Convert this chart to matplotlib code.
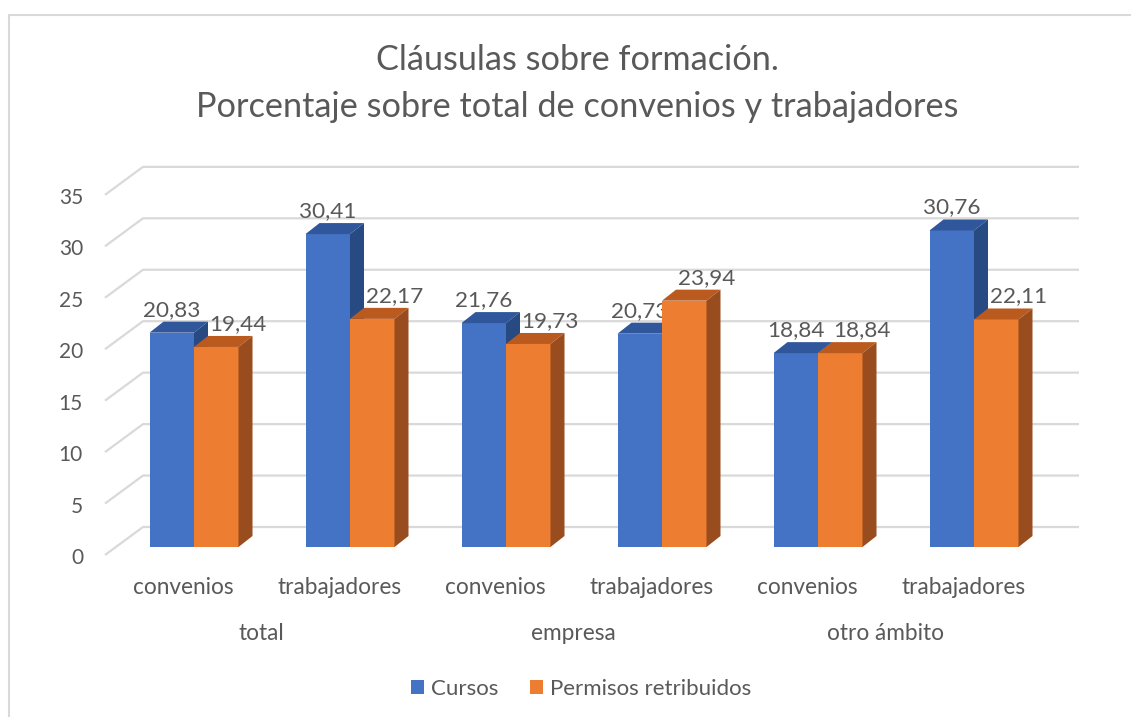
import matplotlib
matplotlib.use('Agg')
import matplotlib.pyplot as plt
from matplotlib.patches import Polygon, Rectangle, Patch

# data
groups = ['total', 'empresa', 'otro ámbito']
categories = ['convenios', 'trabajadores'] * 3
cursos = [20.83, 30.41, 21.76, 20.73, 18.84, 30.76]
permisos = [19.44, 22.17, 19.73, 23.94, 18.84, 22.11]
series_names = ['Cursos', 'Permisos retribuidos']
yticks = [0, 5, 10, 15, 20, 25, 30, 35]
title = 'Cláusulas sobre formación.\nPorcentaje sobre total de convenios y trabajadores'

# styling
text_col = '#595959'
grid_col = '#D9D9D9'
front_cols = ['#4472C4', '#ED7D31']
top_cols = ['#30569B', '#BB5A1F']
side_cols = ['#284A83', '#994C1E']
plt.rcParams['font.family'] = ['Lato', 'DejaVu Sans']

W, H = 1131, 717
fig = plt.figure(figsize=(W/100, H/100), dpi=100)
ax = fig.add_axes([0, 0, 1, 1])
ax.axis('off')

# axis scaling: one category = 156 px, one unit = 10.29 px
px_x = 1/156.
px_y = 1/10.29
x0_px, y0_px = 194, 547
ax.set_xlim(-x0_px*px_x, (W-x0_px)*px_x)
ax.set_ylim((y0_px-H)*px_y, y0_px*px_y)

bar_w = 44.5*px_x
bdx, bdy = 14*px_x, 11*px_y          # bar depth
wdx, wdy = 27.5*px_x, 20*px_y        # back wall offset
fdx, fdy = -10.5*px_x, -8*px_y       # front edge offset
wall_left = (143-x0_px)*px_x
wall_right = (1079-x0_px)*px_x
front_left = (105-x0_px)*px_x

# gridlines
for t in yticks:
    ax.plot([front_left, wall_left, wall_right],
            [t+fdy, t+wdy, t+wdy], color=grid_col, lw=1.6, zorder=1,
            solid_capstyle='butt')
    ax.text((83-x0_px)*px_x, t+fdy-0.3, str(t), ha='right', va='center',
            fontsize=15, color=text_col)

# bars
z = 3
for i in range(len(categories)):
    for s, vals in enumerate([cursos, permisos]):
        v = vals[i]
        xa = i - bar_w if s == 0 else i
        xb = xa + bar_w
        ax.add_patch(Polygon([(xa, 0), (xb, 0), (xb, v), (xa, v)],
                             closed=True, fc=front_cols[s], ec='none', zorder=z))
        ax.add_patch(Polygon([(xa, v), (xb, v), (xb+bdx, v+bdy), (xa+bdx, v+bdy)],
                             closed=True, fc=top_cols[s], ec='none', zorder=z))
        ax.add_patch(Polygon([(xb, 0), (xb+bdx, bdy), (xb+bdx, v+bdy), (xb, v)],
                             closed=True, fc=side_cols[s], ec='none', zorder=z))
        nudge = 0 if s == 0 else 22*px_x
        ax.text((xa+xb)/2 + nudge, v+bdy+6*px_y, f'{v:.2f}'.replace('.', ','),
                ha='center', va='baseline', fontsize=16.2, color=text_col,
                zorder=z+1)
        z += 2

# category and group labels
for i, c in enumerate(categories):
    ax.text(i+fdx, (y0_px-587)*px_y, c, ha='center', va='center',
            fontsize=16.3, color=text_col)
for g, name in enumerate(groups):
    ax.text(2*g+0.5+fdx, (y0_px-633)*px_y, name, ha='center', va='center',
            fontsize=16.3, color=text_col)

# title
fig.text(577/W, 1-60/H, title.split('\n')[0], ha='center', va='center',
         fontsize=24.7, color=text_col)
fig.text(577/W, 1-107/H, title.split('\n')[1], ha='center', va='center',
         fontsize=24.7, color=text_col)

# legend
handles = [Patch(fc=front_cols[k], ec='none', label=series_names[k]) for k in range(2)]
fig.legend(handles=handles, loc='center', bbox_to_anchor=(581/W, 1-689/H),
           ncol=2, frameon=False, fontsize=16, handlelength=0.6, handleheight=0.6,
           handletextpad=0.3, columnspacing=1.4, labelcolor=text_col)

# chart border
fig.add_artist(Rectangle((9/W, -0.01), 1.0, 1-15/H+0.01, transform=fig.transFigure,
                         fill=False, ec=grid_col, lw=1.5))

fig.savefig('out.png', dpi=100)
